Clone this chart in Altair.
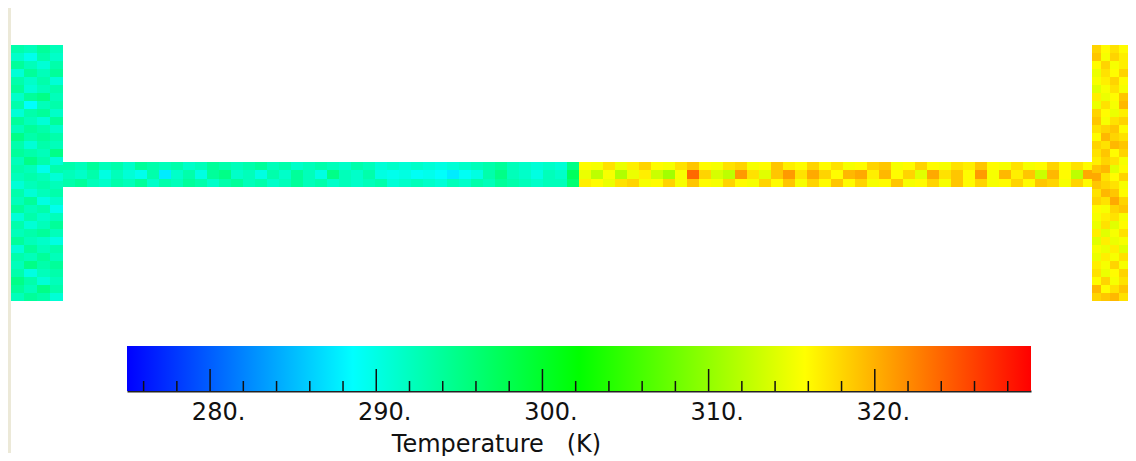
import altair as alt
import pandas as pd

# Temperature field estimates (K)
left_bar = [
 [296,295,297,295],[294,291,296,294],[297,295,293,296],[293,297,295,297],
 [296,294,296,293],[297,293,295,296],[294,297,298,295],[296,289,295,296],
 [293,296,297,294],[297,295,293,297],[295,297,296,294],[298,296,297,296],
 [296,293,296,295],[297,296,295,298],[295,298,296,293],[296,295,291,296],
 [295,296,295,293],[293,295,296,295],[296,293,295,296],[295,297,292,294],
 [297,295,296,291],[293,296,294,295],[296,293,295,297],[295,296,297,295],
 [297,295,294,292],[293,297,295,296],[296,295,297,295],[295,298,296,297],
 [296,292,295,296],[298,296,293,295],[297,295,298,296],[295,297,296,293],
]
stem_top = [296,295,297,295,296,294,297,296,295,296,294,295,297,296,295,296,297,295,296,294,295,296,295,294,296,295,293,294,293,294,293,292,293,294,295,296,297,295,294,293,294,293,298,
            316,315,318,314,317,319,316,315,318,320,316,315,318,319,315,316,320,317,316,319,316,318,315,316,319,320,315,316,319,316,315,318,317,320,316,315,318,315,316,319,316,318,316]
stem_mid = [295,294,296,292,295,293,291,296,287,294,296,292,297,298,294,295,292,296,294,297,295,292,298,295,294,296,292,291,292,290,291,289,287,290,292,296,298,295,294,292,295,294,300,
            314,310,315,309,314,317,311,308,315,326,319,312,310,323,318,313,320,323,318,322,319,316,321,322,317,321,316,319,313,322,318,320,316,323,315,321,317,320,311,321,316,310,322]
stem_low = [296,297,295,294,296,295,297,294,296,295,297,296,294,296,297,295,296,294,295,297,295,296,294,295,294,295,296,293,294,295,294,293,295,294,296,295,297,296,295,294,295,295,299,
            317,316,314,318,319,315,316,319,315,320,316,315,319,316,315,319,316,320,315,319,316,320,316,319,315,316,320,315,316,319,315,320,316,319,315,316,319,316,320,319,315,319,316]
right_bar = [
 [319,316,318,316],[320,315,319,317],[316,319,315,317],[314,318,316,319],
 [315,317,319,316],[313,315,318,315],[317,314,316,320],[314,318,315,321],
 [319,316,314,317],[320,315,318,319],[318,319,320,316],[316,321,319,318],
 [319,318,321,320],[318,320,316,319],[317,319,318,315],[320,321,313,316],
 [322,318,316,319],[320,319,318,315],[318,321,320,316],[319,318,322,319],
 [316,315,319,320],[315,317,318,315],[314,318,313,316],[317,313,315,318],
 [313,317,314,315],[315,314,317,313],[314,317,315,318],[317,315,319,315],
 [318,314,316,319],[316,319,315,318],[321,316,318,320],[319,320,321,318],
]

# Colour bar
stops_t = [275.0, 288.6, 302.2, 315.8, 329.4]
stops_c = ["#0000ff", "#00ffff", "#00ff00", "#ffff00", "#ff0000"]
major_ticks = [280, 290, 300, 310, 320]
minor_ticks = [276, 278, 282, 284, 286, 288, 292, 294, 296, 298, 302, 304, 306, 308,
               312, 314, 316, 318, 322, 324, 326, 328]

rows = []


def add_block(table, x0, x_step, y_edges):
    for r, row in enumerate(table):
        for c, t in enumerate(row):
            rows.append({"x": x0 + c * x_step, "x2": x0 + (c + 1) * x_step,
                         "y": y_edges[r], "y2": y_edges[r + 1], "T": t})


add_block([stem_top, stem_mid, stem_low], 55, 12, [154, 162, 171, 179])
add_block(left_bar, 3, 13, list(range(37, 294, 8)) + [293])
add_block(right_bar, 1084, 9, list(range(37, 294, 8)) + [293])
field = pd.DataFrame(rows)

temp_scale = alt.Scale(domain=stops_t, range=stops_c)
W = 1120
strip = "#ece9d8"

field_chart = alt.Chart(field).mark_rect(strokeWidth=0).encode(
    x=alt.X("x:Q", scale=alt.Scale(domain=[0, W]), axis=None),
    x2="x2:Q",
    y=alt.Y("y:Q", scale=alt.Scale(domain=[0, 338], reverse=True), axis=None),
    y2="y2:Q",
    color=alt.Color("T:Q", scale=temp_scale, legend=None),
)
strip_top = alt.Chart(pd.DataFrame({"a": [0]})).mark_rect(color=strip).encode(
    x=alt.value(0), x2=alt.value(3), y=alt.value(0), y2=alt.value(338))
top = alt.layer(strip_top, field_chart).properties(width=W, height=338)

cb_x = alt.Scale(domain=[stops_t[0], stops_t[-1]], range=[119, 1023], nice=False, zero=False)
cb_axis = alt.Axis(
    values=major_ticks, labelExpr="datum.value + '.'", tickSize=0, grid=False,
    domainColor="#222222", domainWidth=2, labelColor="#111111", labelFont="DejaVu Sans",
    labelFontSize=24, labelPadding=9, labelOffset=8, title="Temperature\u00a0\u00a0\u00a0(K)",
    titleFont="DejaVu Sans", titleFontSize=24, titleFontWeight="normal", titleColor="#111111",
    titleX=488, titleY=60, titleBaseline="alphabetic")
grad = alt.Gradient(gradient="linear", x1=0, x2=1, y1=0, y2=0, stops=[
    alt.GradientStop(offset=i / 4, color=c) for i, c in enumerate(stops_c)])
bar = alt.Chart(pd.DataFrame({"a": [stops_t[0]], "b": [stops_t[-1]]})).mark_rect(color=grad).encode(
    x=alt.X("a:Q", scale=cb_x, axis=cb_axis),
    x2="b:Q",
)
major = alt.Chart(pd.DataFrame({"t": major_ticks})).mark_rule(color="#111111", strokeWidth=1.5).encode(
    x=alt.X("t:Q", scale=cb_x, axis=cb_axis), y=alt.value(23), y2=alt.value(45))
minor = alt.Chart(pd.DataFrame({"t": minor_ticks})).mark_rule(color="#111111", strokeWidth=1.5).encode(
    x=alt.X("t:Q", scale=cb_x, axis=cb_axis), y=alt.value(35), y2=alt.value(45))
strip_low = alt.Chart(pd.DataFrame({"a": [0]})).mark_rect(color=strip).encode(
    x=alt.value(0), x2=alt.value(3), y=alt.value(0), y2=alt.value(107))
low = alt.layer(strip_low, bar, major, minor).properties(width=W, height=45)

chart = alt.vconcat(top, low, spacing=0, padding=0, background="white").configure_view(stroke=None)
chart.save("out.html", embed_options={"renderer": "svg", "actions": False})
